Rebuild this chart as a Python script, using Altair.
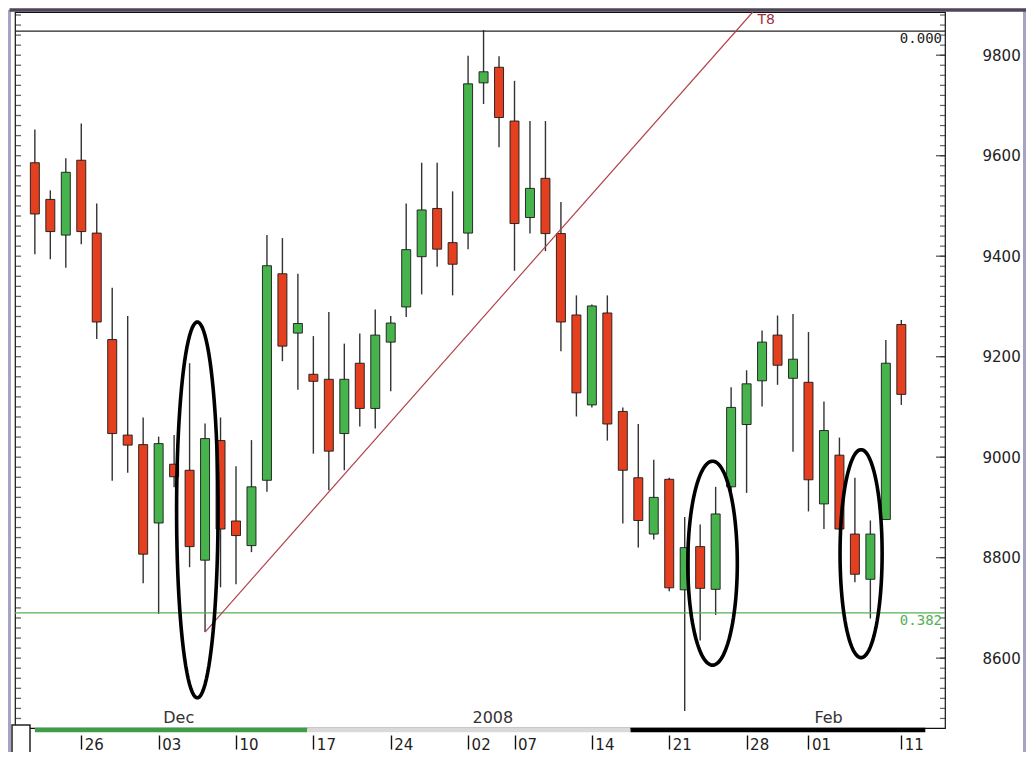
import altair as alt
import pandas as pd

# ---- candle data (index = trading day, 21 Nov 2007 .. 11 Feb 2008) ----
opens  = [9586, 9513, 9442, 9591, 9446, 9234, 9044, 9025, 8869, 8986,
          8974, 8795, 9033, 8873, 8824, 8954, 9365, 9247, 9165, 9155,
          9047, 9187, 9097, 9229, 9299, 9399, 9495, 9427, 9446, 9745,
          9776, 9669, 9477, 9555, 9445, 9283, 9104, 9287, 9091, 8959,
          8847, 8956, 8736, 8822, 8737, 8941, 9065, 9152, 9243, 9157,
          9149, 8907, 9004, 8847, 8757, 8876, 9264]
closes = [9484, 9449, 9567, 9449, 9269, 9047, 9024, 8807, 9027, 8961,
          8822, 9037, 8857, 8844, 8941, 9381, 9221, 9266, 9151, 9012,
          9155, 9097, 9243, 9267, 9413, 9492, 9414, 9384, 9743, 9767,
          9676, 9465, 9535, 9445, 9269, 9128, 9301, 9066, 8974, 8874,
          8920, 8740, 8820, 8739, 8887, 9099, 9146, 9229, 9183, 9195,
          8955, 9053, 8857, 8767, 8847, 9187, 9125]
highs  = [9652, 9531, 9595, 9664, 9505, 9337, 9281, 9079, 9041, 9044,
          9187, 9067, 9079, 8982, 9034, 9442, 9436, 9365, 9241, 9289,
          9226, 9246, 9294, 9281, 9505, 9586, 9586, 9529, 9799, 9850,
          9798, 9749, 9669, 9669, 9508, 9322, 9304, 9322, 9099, 9066,
          8995, 8959, 8881, 8866, 8941, 9139, 9173, 9252, 9282, 9285,
          9249, 9111, 9039, 8959, 8874, 9233, 9273]
lows   = [9404, 9394, 9377, 9424, 9235, 8953, 8969, 8749, 8688, 8940,
          8781, 8652, 8741, 8747, 8811, 8931, 9191, 9134, 9007, 8934,
          8974, 9061, 9057, 9131, 9279, 9324, 9379, 9322, 9414, 9703,
          9617, 9371, 9445, 9410, 9211, 9081, 9099, 9033, 8868, 8820,
          8836, 8733, 8495, 8635, 8686, 8929, 8929, 9101, 9144, 9011,
          8892, 8857, 8854, 8751, 8679, 8876, 9104]
idx = list(range(len(opens)))

# ---- axis labels ----
tick_idx = [3, 8, 13, 18, 23, 28, 31, 36, 41, 46, 50, 56]
tick_lbl = ["26", "03", "10", "17", "24", "02", "07", "14", "21", "28", "01", "11"]
month_pos = [9.3, 29.6, 51.3]
month_lbl = ["Dec", "2008", "Feb"]
y_labels = [8600, 8800, 9000, 9200, 9400, 9600, 9800]

# ---- annotations ----
fib_vals = [9848, 8690]
fib_lbls = ["0.000", "0.382"]
fib_cols = ["#222222", "#55b055"]
trend_x = [11, 46.4]
trend_y = [8652, 9886]
ell_cx = [10.5, 43.8, 53.4]
ell_cy = [8895, 8789, 8808]
ell_rx = [1.34, 1.6, 1.36]
ell_ry = [374, 203, 207]
bar_from = [0, 17.6, 38.5]
bar_to = [17.6, 38.5, 57.55]
bar_col = ["#3f9e45", "#d9d9d9", "#000000"]

W, H = 930, 716
xs = alt.Scale(domain=[-0.96, 58.5], nice=False, zero=False)
ys = alt.Scale(domain=[8461, 9886], nice=False, zero=False)
FONT = "DejaVu Sans"

df = pd.DataFrame({"i": idx, "o": opens, "c": closes, "h": highs, "l": lows})
df["dir"] = ["up" if c >= o else "down" for o, c in zip(opens, closes)]

label_expr = "".join(f"datum.value == {i} ? '{l}' : " for i, l in zip(tick_idx, tick_lbl)) + "''"

x_axis = alt.Axis(
    orient="bottom", values=tick_idx, labelExpr=label_expr, tickSize=14, offset=7,
    tickColor="#111", tickWidth=1.4, domain=False, grid=False, title=None,
    labelAlign="left", labelOffset=3, labelBaseline="alphabetic", labelPadding=0,
    labelFontSize=15, labelFont=FONT, labelColor="#222", labelFlush=False,
    labelOverlap=False)
y_axis = alt.Axis(
    orient="right", values=y_labels, ticks=False, domain=False, grid=False,
    title=None, labelPadding=37, labelFontSize=15, labelFont=FONT,
    labelColor="#222", labelExpr="datum.value + ''")

base = alt.Chart(df)

wicks = base.mark_rule(color="#333333", strokeWidth=1.4).encode(
    x=alt.X("i:Q", scale=xs, axis=x_axis),
    y=alt.Y("l:Q", scale=ys, axis=y_axis),
    y2="h:Q",
)

bodies = base.mark_bar(size=9, stroke="#1a1a1a", strokeWidth=0.9).encode(
    x=alt.X("i:Q"),
    y=alt.Y("o:Q"),
    y2="c:Q",
    fill=alt.Fill("dir:N", scale=alt.Scale(domain=["up", "down"], range=["#46b34c", "#e4401f"]), legend=None),
)

# right-hand inner ticks and left-hand ticks
minor_vals = list(range(8480, 9881, 20))
tick_df = pd.DataFrame({"v": minor_vals, "major": [v % 200 == 0 for v in minor_vals]})
tk = alt.Chart(tick_df)
r_minor = tk.mark_tick(orient="horizontal", color="#222", thickness=1.2, size=5).encode(
    y=alt.Y("v:Q"), x=alt.value(W - 2.5))
r_major = tk.transform_filter("datum.major").mark_tick(orient="horizontal", color="#222", thickness=1.4, size=9).encode(
    y=alt.Y("v:Q"), x=alt.value(W - 4.5))
l_minor = tk.mark_tick(orient="horizontal", color="#222", thickness=1.3, size=6).encode(
    y=alt.Y("v:Q"), x=alt.value(3))

fib_df = pd.DataFrame({"v": fib_vals, "t": fib_lbls, "col": fib_cols})
fib_lines = alt.Chart(fib_df).mark_rule(strokeWidth=1.3).encode(
    y=alt.Y("v:Q"), x=alt.value(0), x2=alt.value(W),
    color=alt.Color("col:N", scale=None))
fib_text = alt.Chart(fib_df).mark_text(align="right", baseline="middle", dy=8, dx=-3,
                                        font="DejaVu Sans Mono", fontSize=14).encode(
    y=alt.Y("v:Q"), x=alt.value(W),
    text="t:N", color=alt.Color("col:N", scale=None))

trend_df = pd.DataFrame({"x": trend_x, "y": trend_y})
trend = alt.Chart(trend_df).mark_line(color="#b0404a", strokeWidth=1.2, clip=True).encode(
    x=alt.X("x:Q"), y=alt.Y("y:Q"))
trend_lbl = alt.Chart(pd.DataFrame({"x": [46.7], "y": [9871], "t": ["T8"]})).mark_text(
    align="left", baseline="middle", color="#a0303a", fontSize=14, font=FONT).encode(
    x=alt.X("x:Q"), y=alt.Y("y:Q"), text="t:N")

ell_df = pd.DataFrame({"id": [0, 1, 2], "cx": ell_cx, "cy": ell_cy, "rx": ell_rx, "ry": ell_ry})
ell_df["t"] = [list(range(0, 361, 4))] * len(ell_df)
ellipses = alt.Chart(ell_df).transform_flatten(["t"]).transform_calculate(
    ex="datum.cx + datum.rx * cos(datum.t * PI / 180)",
    ey="datum.cy + datum.ry * sin(datum.t * PI / 180)",
).mark_line(color="#000000", strokeWidth=3.6).encode(
    x=alt.X("ex:Q"), y=alt.Y("ey:Q"),
    detail="id:N", order="t:Q")

month_df = pd.DataFrame({"x": month_pos, "t": month_lbl})
months = alt.Chart(month_df).mark_text(baseline="middle", fontSize=16, font=FONT, color="#333").encode(
    x=alt.X("x:Q"), y=alt.value(H - 10), text="t:N")

strip_df = pd.DataFrame({"a": bar_from, "b": bar_to, "col": bar_col})
strip = alt.Chart(strip_df).mark_rule(strokeWidth=4.5).encode(
    x=alt.X("a:Q"), x2="b:Q", y=alt.value(H + 2),
    color=alt.Color("col:N", scale=None))

one = pd.DataFrame({"k": [0]})
frame_l = alt.Chart(one).mark_rule(color="#a6a4c4", strokeWidth=3).encode(
    x=alt.value(-5.5), y=alt.value(-2), y2=alt.value(H + 26))
frame_r = alt.Chart(one).mark_rule(color="#a6a4c4", strokeWidth=3).encode(
    x=alt.value(W + 79.5), y=alt.value(-2), y2=alt.value(H + 26))
frame_top = alt.Chart(one).mark_rule(color="#4f4656", strokeWidth=3.5).encode(
    x=alt.value(-5.5), x2=alt.value(W + 81), y=alt.value(-2))
box = alt.Chart(one).mark_rect(fill="white", stroke="#222", strokeWidth=1.5).encode(
    x=alt.value(-3), x2=alt.value(15), y=alt.value(H - 3), y2=alt.value(H + 25))

chart = alt.layer(
    wicks, bodies, r_minor, r_major, l_minor, fib_lines, fib_text, trend, trend_lbl,
    ellipses, months, strip, box, frame_l, frame_r, frame_top
).properties(
    width=W, height=H,
    autosize=alt.AutoSizeParams(type="none"),
    padding={"left": 7, "top": 4, "right": 81, "bottom": 24},
    background="white",
).configure_view(stroke="#111111", strokeWidth=1.2)

chart.save("out.html", embed_options={"renderer": "svg", "actions": False})
